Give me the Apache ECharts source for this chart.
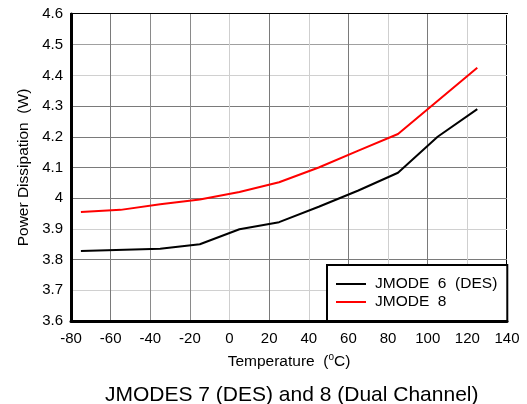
<!DOCTYPE html>
<html>
<head>
<meta charset="utf-8">
<script src="https://cdn.jsdelivr.net/npm/echarts@6/dist/echarts.min.js"></script>
<style>html,body{margin:0;padding:0;background:#fff;}#c{width:527px;height:404px;}</style>
</head>
<body>
<div id="c"></div>
<script>
const seriesNames = ['JMODE  6  (DES)', 'JMODE  8'];
const tempDES = [-75, -35, -15, 5, 25, 45, 65, 85, 105, 125];
const powerDES = [3.828, 3.835, 3.850, 3.899, 3.922, 3.972, 4.025, 4.083, 4.200, 4.290];
const temp8 = [-75, -55, -35, -15, 5, 25, 45, 65, 85, 125];
const power8 = [3.955, 3.962, 3.980, 3.996, 4.020, 4.052, 4.100, 4.155, 4.209, 4.425];
const xTicks = [-80, 140, 20];
const yTicks = [3.6, 4.6, 0.1];
const titleText = 'JMODES 7 (DES) and 8 (Dual Channel)';

const font = 'Liberation Sans, Arial, sans-serif';
const chart = echarts.init(document.getElementById('c'), null, {renderer: 'canvas'});
chart.setOption({
  animation: false,
  backgroundColor: '#fff',
  title: {
    text: titleText, left: 100, top: 380,
    textStyle: {fontFamily: font, fontSize: 21, fontWeight: 'normal', color: '#000'}
  },
  grid: {left: 71, right: 20, top: 14, bottom: 83, show: true, borderColor: '#000', borderWidth: 2, backgroundColor: 'transparent'},
  legend: {
    orient: 'vertical', left: 327, top: 265,
    backgroundColor: '#fff', borderColor: '#000', borderWidth: 2,
    padding: [11, 10, 11, 9], itemGap: 2, itemWidth: 30, itemHeight: 12,
    textStyle: {fontFamily: font, fontSize: 15.5, color: '#000', padding: [0, 0, 0, 4]},
    data: seriesNames.map(n => ({name: n, icon: 'path://M0,0 L30,0 L30,2 L0,2 Z'}))
  },
  xAxis: {
    type: 'value', min: xTicks[0], max: xTicks[1], interval: xTicks[2],
    name: 'Temperature  ({s|o}C)', nameLocation: 'middle', nameGap: 31,
    nameTextStyle: {fontFamily: font, fontSize: 15.5, color: '#000', rich: {s: {fontSize: 10, verticalAlign: 'top', padding: [0,0,9,0], fontFamily: font}}},
    axisLine: {show: true, onZero: false, lineStyle: {color: '#000', width: 3}},
    axisTick: {show: false},
    axisLabel: {fontFamily: font, fontSize: 15, color: '#000', margin: 10},
    splitLine: {show: true, lineStyle: {width: 1, color: ['#ffffff', '#7a7a7a', '#8a8a8a', '#8a8a8a', '#cfcfcf', '#7a7a7a', '#cfcfcf', '#7a7a7a', '#cfcfcf', '#7a7a7a', '#cfcfcf', '#ffffff']}}
  },
  yAxis: {
    type: 'value', min: yTicks[0], max: yTicks[1], interval: yTicks[2],
    name: 'Power Dissipation  (W)', nameLocation: 'middle', nameGap: 37,
    nameTextStyle: {fontFamily: font, fontSize: 15.5, color: '#000'},
    axisLine: {show: true, onZero: false, lineStyle: {color: '#000', width: 3}},
    axisTick: {show: false},
    axisLabel: {fontFamily: font, fontSize: 15, color: '#000', margin: 8,
      formatter: v => String(parseFloat(v.toFixed(1)))},
    splitLine: {show: true, lineStyle: {width: 1, color: ['#ffffff', '#d0d0d0', '#7a7a7a', '#d0d0d0', '#7a7a7a', '#7a7a7a', '#7a7a7a', '#7a7a7a', '#d0d0d0', '#a0a0a0', '#ffffff']}}
  },
  series: [
    {name: seriesNames[0], type: 'line', symbol: 'none', color: '#000',
     lineStyle: {width: 2, color: '#000'}, data: tempDES.map((t, i) => [t, powerDES[i]])},
    {name: seriesNames[1], type: 'line', symbol: 'none', color: '#ff0000',
     lineStyle: {width: 2, color: '#ff0000'}, data: temp8.map((t, i) => [t, power8[i]])}
  ]
});
</script>
</body>
</html>
